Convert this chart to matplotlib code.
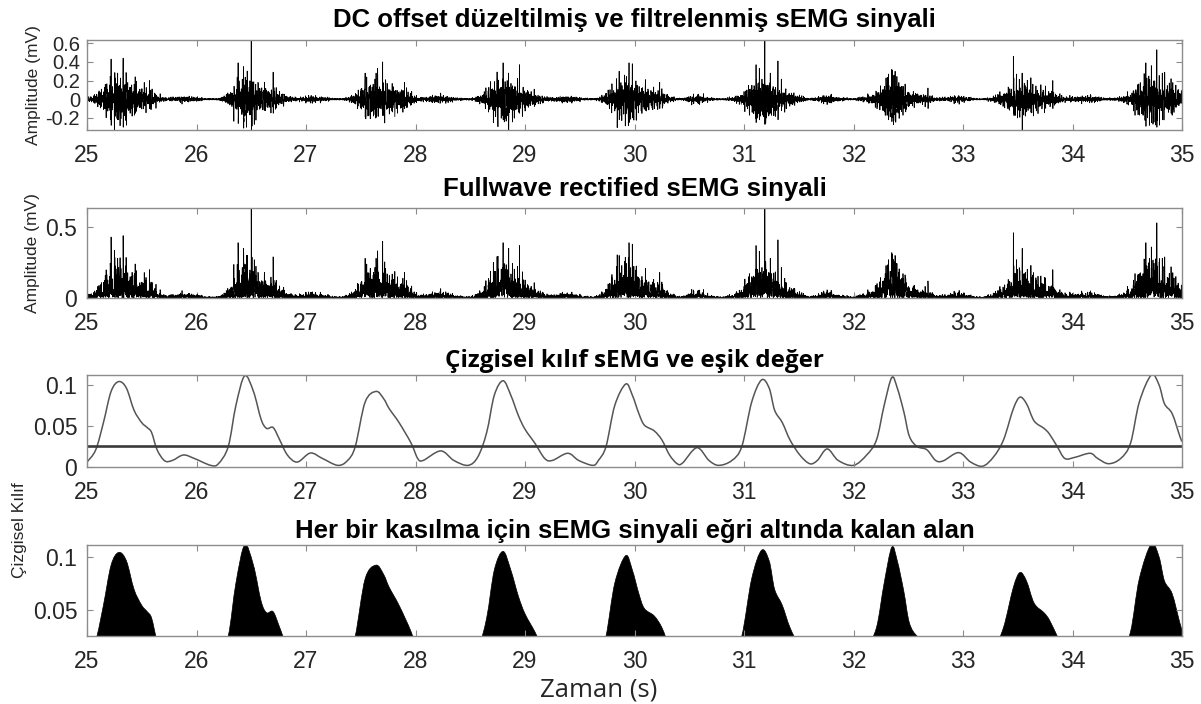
import numpy as np
import matplotlib
matplotlib.use("Agg")
import matplotlib.pyplot as plt
from matplotlib.path import Path
from matplotlib.patches import PathPatch

# ---------------- data ----------------
# linear envelope keypoints (time s, value)
env_t = [25.00, 25.08, 25.15, 25.22, 25.29, 25.36, 25.43, 25.50, 25.55, 25.59, 25.64, 25.71, 25.78,
         25.88, 25.98, 26.13, 26.20, 26.29, 26.36, 26.44, 26.52, 26.59, 26.64, 26.70, 26.76, 26.83,
         26.92, 27.04, 27.15, 27.29, 27.38, 27.45, 27.54, 27.64, 27.71, 27.76, 27.85, 27.96, 28.02,
         28.07, 28.23, 28.35, 28.48, 28.57, 28.65, 28.72, 28.80, 28.87, 28.94, 29.00, 29.09, 29.18,
         29.25, 29.39, 29.49, 29.62, 29.67, 29.74, 29.82, 29.92, 29.98, 30.04, 30.09, 30.18, 30.25,
         30.32, 30.39, 30.44, 30.57, 30.68, 30.77, 30.89, 30.98, 31.07, 31.16, 31.23, 31.28, 31.35,
         31.42, 31.51, 31.60, 31.67, 31.76, 31.86, 32.00, 32.12, 32.21, 32.28, 32.35, 32.40, 32.46,
         32.51, 32.58, 32.67, 32.75, 32.82, 32.96, 33.07, 33.18, 33.28, 33.37, 33.46, 33.52, 33.58,
         33.65, 33.74, 33.79, 33.86, 33.93, 34.02, 34.16, 34.23, 34.33, 34.44, 34.53, 34.61, 34.72,
         34.79, 34.84, 34.91, 34.98, 35.00]
env_v = [0.006, 0.021, 0.054, 0.092, 0.104, 0.096, 0.069, 0.054, 0.048, 0.042, 0.021, 0.0075, 0.008,
         0.0146, 0.0104, 0.002, 0.004, 0.025, 0.075, 0.111, 0.092, 0.058, 0.047, 0.048, 0.033, 0.0146,
         0.006, 0.017, 0.0104, 0.002, 0.008, 0.025, 0.079, 0.092, 0.083, 0.071, 0.054, 0.029, 0.0104,
         0.008, 0.0196, 0.008, 0.002, 0.0125, 0.042, 0.0875, 0.105, 0.0875, 0.0625, 0.046, 0.029, 0.0104,
         0.008, 0.0167, 0.008, 0.002, 0.008, 0.025, 0.075, 0.101, 0.0875, 0.065, 0.051, 0.044, 0.033,
         0.0146, 0.004, 0.005, 0.0235, 0.008, 0.002, 0.008, 0.025, 0.079, 0.106, 0.096, 0.069, 0.054,
         0.033, 0.0146, 0.004, 0.008, 0.022, 0.008, 0.002, 0.0146, 0.033, 0.075, 0.109, 0.096, 0.067,
         0.0375, 0.025, 0.021, 0.008, 0.0075, 0.0175, 0.006, 0.001, 0.0125, 0.033, 0.071, 0.085, 0.077,
         0.056, 0.047, 0.040, 0.025, 0.0104, 0.0117, 0.0167, 0.0104, 0.004, 0.0104, 0.029, 0.079, 0.112,
         0.100, 0.077, 0.065, 0.0375, 0.031]
threshold = 0.025

# large visible spikes in the filtered signal (time, positive peak, negative peak)
spike_t = [25.22, 25.28, 25.33, 25.44, 25.57, 26.38, 26.43, 26.50, 26.62, 26.70, 27.54, 27.64,
           27.70, 27.90, 28.75, 28.80, 28.85, 28.95, 29.86, 29.95, 29.98, 30.10, 30.23, 31.11,
           31.14, 31.19, 31.24, 31.31, 32.32, 32.35, 32.38, 32.68, 33.46, 33.54, 33.62, 33.82,
           34.67, 34.72, 34.77, 34.82, 34.90]
spike_up = [0.43, 0.28, 0.44, 0.24, 0.20, 0.39, 0.35, 0.65, 0.18, 0.29, 0.28, 0.28,
            0.40, 0.18, 0.22, 0.39, 0.28, 0.37, 0.30, 0.39, 0.38, 0.21, 0.18, 0.37,
            0.33, 0.65, 0.28, 0.41, 0.27, 0.32, 0.30, 0.12, 0.46, 0.28, 0.23, 0.20,
            0.39, 0.36, 0.53, 0.28, 0.22]
spike_dn = [0.28, 0.22, 0.30, 0.15, 0.10, 0.26, 0.31, 0.35, 0.12, 0.15, 0.19, 0.19,
            0.16, 0.10, 0.20, 0.22, 0.35, 0.15, 0.22, 0.25, 0.20, 0.12, 0.10, 0.25,
            0.22, 0.27, 0.15, 0.22, 0.22, 0.24, 0.23, 0.10, 0.15, 0.35, 0.14, 0.10,
            0.29, 0.25, 0.30, 0.22, 0.15]

x_ticks = [25, 26, 27, 28, 29, 30, 31, 32, 33, 34, 35]
titles = ["DC offset düzeltilmiş ve filtrelenmiş sEMG sinyali",
          "Fullwave rectified sEMG sinyali",
          "Çizgisel kılıf sEMG ve eşik değer",
          "Her bir kasılma için sEMG sinyali eğri altında kalan alan"]

# ---------------- build the raw signal ----------------
fs = 1000
t = np.arange(25.0, 35.0 + 1e-9, 1.0 / fs)
freqs = [41.3, 53.1, 67.9, 79.7, 97.1, 118.3, 137.9, 151.9, 173.3, 197.3, 219.1, 241.7, 283.1, 331.7]
phases = [1.1, 0.3, 2.8, 1.9, 0.5, 4.1, 3.3, 2.6, 5.9, 5.3, 1.4, 0.9, 3.7, 2.2]
carrier = sum(np.sin(2 * np.pi * f * t + p) for f, p in zip(freqs, phases))
carrier = carrier / carrier.std()
env_lin = np.interp(t, env_t, env_v)
raw = 1.15 * env_lin * carrier + 0.004 * np.sin(2 * np.pi * 211.3 * t + 0.7)
for st, su, sd in zip(spike_t, spike_up, spike_dn):
    i = int(round((st - 25.0) * fs))
    raw[i] = su
    raw[i + 1] = -sd
rect = np.abs(raw)

# ---------------- figure ----------------
plt.rcParams['font.family'] = ['Liberation Sans', 'DejaVu Sans']
fig = plt.figure(figsize=(12.01, 7.04), dpi=100)
W, H = 1201.0, 704.0
left = 87 / W
width = (1182 - 87) / W
boxes = [(40, 130), (208, 298), (375, 467), (545, 636)]
axes = []
for top, bot in boxes:
    ax = fig.add_axes([left, 1 - bot / H, width, (bot - top) / H])
    axes.append(ax)

spine_c = '#8c8c8c'
tick_c = '#262626'
for ax in axes:
    ax.set_xlim(25, 35)
    ax.set_xticks(x_ticks)
    ax.set_xticklabels([str(v) for v in x_ticks])
    ax.tick_params(direction='in', length=4, width=0.8, color=spine_c, top=True, right=True,
                   labelsize=16.5, labelcolor=tick_c, pad=10)
    ax.tick_params(axis='y', pad=7)
    for s in ax.spines.values():
        s.set_color(spine_c)
        s.set_linewidth(1.0)

title_kw = dict(fontsize=18.5, fontweight='bold', color='black')

# panel 1
ax = axes[0]
ax.plot(t, raw, color='black', lw=0.55)
ax.set_ylim(-0.33, 0.635)
ax.set_yticks([-0.2, 0, 0.2, 0.4, 0.6])
ax.set_yticklabels(['-0.2', '0', '0.2', '0.4', '0.6'])
ax.tick_params(axis='y', labelsize=14.5, pad=5)
ax.set_title(titles[0], pad=9, **title_kw)
ax.set_ylabel('Amplitude (mV)', fontsize=12.5, color=tick_c, labelpad=3)

# panel 2
ax = axes[1]
ax.plot(t, rect, color='black', lw=0.55)
ax.set_ylim(0, 0.635)
ax.set_yticks([0, 0.5])
ax.set_yticklabels(['0', '0.5'])
ax.set_title(titles[1], pad=9, **title_kw)
ax.set_ylabel('Amplitude (mV)', fontsize=12.5, color=tick_c, labelpad=4)

# smooth envelope path (Catmull-Rom -> cubic Bezier)
pts = np.column_stack([env_t, env_v])
P = np.vstack([pts[0], pts, pts[-1]])
verts = [tuple(pts[0])]
codes = [Path.MOVETO]
for i in range(1, len(P) - 2):
    p0, p1, p2, p3 = P[i - 1], P[i], P[i + 1], P[i + 2]
    c1 = p1 + (p2 - p0) / 6.0
    c2 = p2 - (p3 - p1) / 6.0
    verts += [tuple(c1), tuple(c2), tuple(p2)]
    codes += [Path.CURVE4] * 3

# panel 3
ax = axes[2]
ax.add_patch(PathPatch(Path(verts, codes), fill=False, edgecolor='#555555', lw=1.1))
ax.axhline(threshold, color='#3a3a3a', lw=1.9)
ax.set_ylim(0, 0.112)
ax.set_yticks([0, 0.05, 0.1])
ax.set_yticklabels(['0', '0.05', '0.1'])
ax.set_title(titles[2], fontsize=17.5, fontweight='bold', family=['Open Sans', 'DejaVu Sans'],
             color='black', pad=6)

# panel 4
ax = axes[3]
fverts = verts + [(35.0, 0.0), (25.0, 0.0), verts[0]]
fcodes = codes + [Path.LINETO, Path.LINETO, Path.CLOSEPOLY]
ax.add_patch(PathPatch(Path(fverts, fcodes), facecolor='black', edgecolor='black', lw=0.5))
ax.set_ylim(threshold, 0.111)
ax.set_yticks([0.05, 0.1])
ax.set_yticklabels(['0.05', '0.1'])
ax.set_title(titles[3], pad=5, **title_kw)

fig.text(599 / W, 1 - 690 / H, 'Zaman (s)', ha='center', va='center', fontsize=18.5,
         family=['Open Sans', 'DejaVu Sans'], color=tick_c)
fig.text(20 / W, 1 - 530 / H, 'Çizgisel Kılıf', rotation=90, ha='center', va='center',
         fontsize=12.5, color=tick_c)

fig.savefig('out.png', dpi=100)
